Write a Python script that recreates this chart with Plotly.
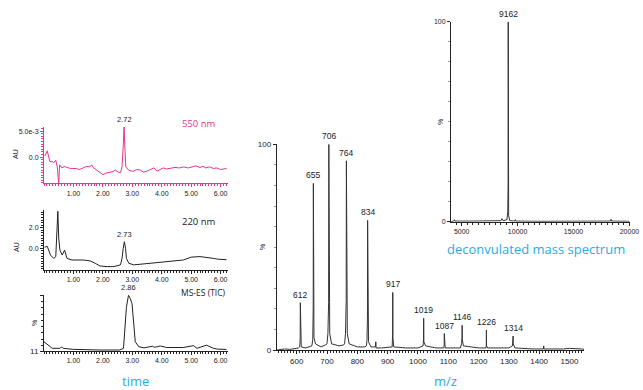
import plotly.graph_objects as go

# ---------------- data ----------------
# 550 nm trace (time in min, absorbance in AU)
t550 = [0.02, 0.05, 0.11, 0.2, 0.27, 0.33, 0.4, 0.45, 0.5, 0.53, 0.6, 0.7, 0.78, 0.9, 1.1, 1.2, 1.33, 1.45, 1.55,
        1.62, 1.67, 1.8, 1.9, 2.0, 2.1, 2.25, 2.35, 2.42, 2.52, 2.6, 2.65, 2.69, 2.72, 2.75, 2.78, 2.87, 2.95,
        3.05, 3.15, 3.27, 3.38, 3.5, 3.62, 3.73, 3.84, 3.95, 4.05, 4.17, 4.3, 4.45, 4.6, 4.75, 4.9, 5.05, 5.15,
        5.3, 5.4, 5.5, 5.62, 5.75, 5.87, 6.0, 6.2]
a550 = [0.0002, 0.0004, 0.0012, -0.0009, -0.0008, -0.0011, -0.0006, -0.0019, -0.0051, -0.0015, -0.0021, -0.0018,
        -0.002, -0.0022, -0.0022, -0.0024, -0.0021, -0.0018, -0.0019, -0.0015, -0.002, -0.0025, -0.003, -0.0034,
        -0.0031, -0.003, -0.0028, -0.0025, -0.0029, -0.003, -0.0019, 0.002, 0.0058, 0.0015, -0.0019, -0.0025,
        -0.0027, -0.0027, -0.0024, -0.0025, -0.0029, -0.0027, -0.0023, -0.0021, -0.0027, -0.0024, -0.0021, -0.0023,
        -0.0022, -0.002, -0.0021, -0.0019, -0.0021, -0.0019, -0.0017, -0.002, -0.0018, -0.0021, -0.0019, -0.0022,
        -0.0021, -0.0024, -0.0022]

# 220 nm trace
t220 = [0.02, 0.05, 0.11, 0.22, 0.33, 0.4, 0.44, 0.47, 0.5, 0.54, 0.62, 0.7, 0.78, 0.95, 1.35, 1.57, 1.74, 1.9,
        2.14, 2.37, 2.6, 2.65, 2.69, 2.73, 2.77, 2.8, 2.88, 3.05, 3.6, 4.17, 4.73, 5.0, 5.3, 5.75, 5.9, 6.2]
a220 = [0.1, 0.15, 0.2, -0.65, -0.97, -0.8, 1.2, 3.6, 1.0, -0.16, -0.65, -0.16, -0.97, -1.13, -1.13, -1.22,
        -1.45, -1.71, -1.77, -1.77, -1.6, -0.97, 0.0, 0.64, 0.0, -0.97, -1.45, -1.6, -1.45, -1.3, -1.13, -0.85,
        -0.8, -0.97, -1.05, -1.1]

# MS-ES TIC trace (%)
tTIC = [0.0, 0.05, 0.11, 0.28, 0.55, 0.6, 0.65, 1.0, 1.9, 2.57, 2.7, 2.75, 2.8, 2.87, 2.93, 2.99, 3.05, 3.1,
        3.22, 3.4, 3.68, 3.75, 3.84, 3.95, 4.17, 4.73, 5.08, 5.2, 5.52, 5.75, 5.9, 6.2]
iTIC = [25.8, 24, 20.5, 15.3, 15.3, 17.8, 15.3, 13.6, 12.6, 12.6, 15.3, 50, 81, 100, 95, 86.7, 55, 25.8,
        17.8, 16.0, 18.6, 17.0, 17.8, 19.0, 16.6, 16.6, 19.5, 15.3, 20.3, 15.3, 14.0, 13.5]

# ESI m/z spectrum (%)
mz = [535, 560, 580, 600, 606, 610, 611.5, 612, 612.6, 615, 630, 645, 650, 653, 654.5, 655, 655.6, 657, 662,
      680, 695, 700, 703, 705.3, 706, 706.7, 709, 715, 740, 755, 758, 761, 763.3, 764, 764.8, 767, 773, 800,
      825, 830, 832, 833.4, 834, 834.7, 837, 845, 860, 861, 862, 880, 910, 915, 916.4, 917, 917.6, 920, 960,
      1000, 1012, 1017, 1018.4, 1019, 1019.6, 1025, 1060, 1085, 1086.5, 1087, 1087.5, 1090, 1140, 1144,
      1145.5, 1146, 1146.6, 1150, 1200, 1225, 1225.6, 1226, 1226.4, 1230, 1300, 1312, 1313.4, 1314, 1314.6,
      1320, 1380, 1414, 1415, 1416, 1480, 1500, 1540, 1548]
mz_int = [0, 0.5, 0.3, 0.8, 1.0, 1.5, 6, 23, 5, 1.5, 1.0, 1.5, 2, 5, 21, 81, 20, 6, 3,
          1.5, 2.5, 3, 8, 23, 100, 22, 8, 3, 2, 2.5, 3, 8, 24, 92, 22, 8, 3, 1.5,
          1.5, 2, 5, 16, 63, 14, 4, 1.5, 1.5, 4, 1, 1, 1.2, 1.5, 7, 28, 6, 1.5, 1,
          1, 1.5, 2, 5, 15.4, 4, 2, 1, 1, 2, 8, 2, 1, 1, 3,
          6, 12, 5, 2, 1, 1, 2, 9.7, 2, 1, 1, 2, 4, 6.8, 3,
          1, 0.5, 0.5, 2, 0.5, 0.5, 0.8, 0.5, 0.3]
mz_peaks = [612, 655, 706, 764, 834, 917, 1019, 1087, 1146, 1226, 1314]
mz_peak_int = [23, 81, 100, 92, 63, 28, 15.4, 8, 12, 9.7, 6.8]

# deconvoluted mass spectrum (%)
mass = [4045, 4300, 4350, 4400, 6000, 7500, 8500, 8600, 8700, 9050, 9120, 9150, 9162, 9175, 9200, 9300, 9750,
        9800, 9850, 12000, 15000, 18300, 18350, 18400, 20000]
mass_int = [0, 0.3, 1.0, 0.3, 0.3, 0.3, 0.5, 1.5, 0.5, 1.0, 5, 19, 100, 11, 3, 0.5, 0.3, 1.0, 0.3, 0.2, 0.2, 0.3,
            1.2, 0.3, 0.2]
mass_peak = [9162]
mass_peak_int = [100]

# tick labels
time_ticks = [1, 2, 3, 4, 5, 6]
mz_ticks = [600, 700, 800, 900, 1000, 1100, 1200, 1300, 1400, 1500]
mass_ticks = [5000, 10000, 15000, 20000]

# ---------------- layout helpers ----------------
W, H = 643, 390
PINK = "#e8338f"
CYAN = "#29abe2"
DARK = "#222222"
TICKFONT = dict(family="Liberation Sans, Arial", size=7, color="#222222")
TICKFONT8 = dict(family="Liberation Sans, Arial", size=8, color="#222222")


def xd(a, b):
    return [a / W, b / W]


def yd(top, bottom):
    return [1 - bottom / H, 1 - top / H]


fig = go.Figure()
fig.add_trace(go.Scatter(x=t550, y=a550, mode="lines", line=dict(color=PINK, width=1), xaxis="x", yaxis="y"))
fig.add_trace(go.Scatter(x=t220, y=a220, mode="lines", line=dict(color=DARK, width=1), xaxis="x2", yaxis="y2"))
fig.add_trace(go.Scatter(x=tTIC, y=iTIC, mode="lines", line=dict(color=DARK, width=1), xaxis="x3", yaxis="y3"))
fig.add_trace(go.Scatter(x=mz, y=mz_int, mode="lines", line=dict(color="#333333", width=1), xaxis="x4", yaxis="y4"))
fig.add_trace(go.Scatter(x=mass, y=mass_int, mode="lines", line=dict(color="#333333", width=1), xaxis="x5", yaxis="y5"))


def base_axis(color):
    return dict(showgrid=False, zeroline=False, showline=True, linecolor=color, linewidth=1, ticks="outside",
                ticklen=3, tickcolor=color, automargin=False)


def time_x(color, anchor, domain):
    d = base_axis(color)
    d.update(domain=domain, anchor=anchor, range=[0, 6.25],
             tickvals=time_ticks, ticktext=["%.2f" % v for v in time_ticks], tickfont=TICKFONT,
             minor=dict(dtick=0.1, tick0=0, ticks="outside", ticklen=2, tickcolor=color))
    return d


def ax(color, **kw):
    d = base_axis(color)
    d.update(kw)
    return d


fig.update_layout(
    width=W, height=H, margin=dict(l=0, r=0, t=0, b=0, autoexpand=False), showlegend=False,
    paper_bgcolor="white", plot_bgcolor="white",
    xaxis=time_x(PINK, "y", xd(44, 228)),
    yaxis=ax(PINK, domain=yd(127, 183.3), anchor="x", range=[-0.00506, 0.0058],
             tickvals=[0, 0.005], ticktext=["0.0", "5.0e-3"], tickfont=TICKFONT,
             minor=dict(dtick=0.0005, tick0=0, ticks="outside", ticklen=2, tickcolor=PINK)),
    xaxis2=time_x(DARK, "y2", xd(44, 228)),
    yaxis2=ax(DARK, domain=yd(210, 270), anchor="x2", range=[-2.1, 3.72],
              tickvals=[0, 2], ticktext=["0.0", "2.0"], tickfont=TICKFONT,
              minor=dict(dtick=0.25, tick0=0, ticks="outside", ticklen=2, tickcolor=DARK)),
    xaxis3=time_x(DARK, "y3", xd(44, 228)),
    yaxis3=ax(DARK, domain=yd(295, 351), anchor="x3", range=[11, 100.5],
              tickvals=[11, 100], ticktext=["11", ""], tickfont=TICKFONT8,
              minor=dict(tickvals=[20, 30, 40, 50, 60, 70, 80, 90], ticks="outside", ticklen=2, tickcolor=DARK)),
    xaxis4=ax(DARK, domain=xd(276.7, 584), anchor="y4", range=[534, 1548],
              tickvals=mz_ticks, ticktext=[str(v) for v in mz_ticks], tickfont=TICKFONT8,
              minor=dict(dtick=10, tick0=0, ticks="outside", ticklen=2, tickcolor=DARK)),
    yaxis4=ax(DARK, domain=yd(144.3, 350), anchor="x4", range=[0, 100],
              tickvals=[0, 100], ticktext=["0", "100"], tickfont=TICKFONT8,
              minor=dict(dtick=10, tick0=0, ticks="outside", ticklen=2, tickcolor="#999999")),
    xaxis5=ax(DARK, domain=xd(451, 630), anchor="y5", range=[4045, 20050],
              tickvals=mass_ticks, ticktext=[str(v) for v in mass_ticks], tickfont=TICKFONT,
              minor=dict(dtick=500, tick0=0, ticks="outside", ticklen=2, tickcolor=DARK)),
    yaxis5=ax(DARK, domain=yd(21.7, 221.7), anchor="x5", range=[0, 100],
              tickvals=[0, 100], ticktext=["0", "100"], tickfont=TICKFONT,
              minor=dict(dtick=10, tick0=0, ticks="outside", ticklen=2, tickcolor="#999999")),
)

ann = []
PEAKFONT = dict(family="Liberation Sans, Arial", size=7.5, color=DARK)
PEAKFONT8 = dict(family="Liberation Sans, Arial", size=8.5, color=DARK)
# chromatogram peak labels
for (x, y, xr, yr, txt) in [(2.72, 0.0058, "x", "y", "2.72"), (2.73, 0.64, "x2", "y2", "2.73"),
                            (2.86, 100, "x3", "y3", "2.86")]:
    ann.append(dict(x=x, y=y, xref=xr, yref=yr, text=txt, showarrow=False, xanchor="center", yanchor="bottom",
                    yshift=1, font=PEAKFONT))
# m/z peak labels
for m, v in zip(mz_peaks, mz_peak_int):
    ann.append(dict(x=m, y=v, xref="x4", yref="y4", text=str(m), showarrow=False, xanchor="center",
                    yanchor="bottom", yshift=1, font=PEAKFONT8))
for m, v in zip(mass_peak, mass_peak_int):
    ann.append(dict(x=m, y=v, xref="x5", yref="y5", text=str(m), showarrow=False, xanchor="center",
                    yanchor="bottom", yshift=1, font=PEAKFONT8))


def paper(px, py):
    return px / W, 1 - py / H


# axis name labels
for (px, py, txt) in [(16, 154, "AU"), (16, 247, "AU"), (34, 323, "%"), (262, 247, "%"), (440, 122, "%")]:
    x, y = paper(px, py)
    ann.append(dict(x=x, y=y, xref="paper", yref="paper", text=txt, showarrow=False, textangle=-90,
                    xanchor="center", yanchor="middle",
                    font=dict(family="Liberation Sans, Arial", size=7, color=DARK)))

# trace names / titles
TITLEFONT = "Open Sans, Noto Sans"
for (px, py, txt, col, size) in [(199, 123, "550 nm", PINK, 9.5), (199, 221, "220 nm", DARK, 9.5),
                                 (203, 292, "MS-ES (TIC)", DARK, 8.5), (135, 380.5, "time", CYAN, 13),
                                 (445, 380.5, "m/z", CYAN, 13), (536, 249, "deconvulated mass spectrum", CYAN, 13)]:
    x, y = paper(px, py)
    ann.append(dict(x=x, y=y, xref="paper", yref="paper", text=txt, showarrow=False,
                    xanchor="center", yanchor="middle", borderpad=0,
                    font=dict(family=TITLEFONT, size=size, color=col)))

fig.update_layout(annotations=ann)
fig.write_html("out.html")
